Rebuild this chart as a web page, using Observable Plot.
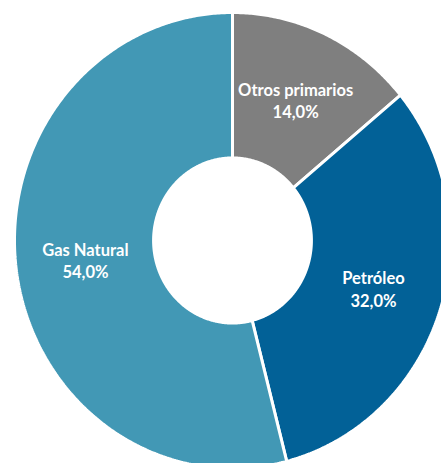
<!DOCTYPE html>
<html>
<head>
<meta charset="utf-8">
<script src="https://cdn.jsdelivr.net/npm/d3@7"></script>
<script src="https://cdn.jsdelivr.net/npm/@observablehq/plot@0.6"></script>
<style>
  html, body { margin: 0; padding: 0; background: #fff; overflow: hidden; }
  #chart svg { display: block; }
</style>
</head>
<body>
<div id="chart"></div>
<script>
// Data
const categories = ["Otros primarios", "Petróleo", "Gas Natural"];
const shares = [14.0, 32.0, 54.0];
const colors = ["#7f7f7f", "#026197", "#4298b5"];

// Layout (not data)
const innerR = 0.362, outerR = 1.0, labelR = 0.68;

const pie = d3.pie().sort(null).value(d => d.value)
  .startAngle(0).endAngle(2 * Math.PI);
const arcs = pie(categories.map((c, i) => ({name: c, value: shares[i]})));

const pts = [];
for (const a of arcs) {
  const n = Math.max(4, Math.ceil((a.endAngle - a.startAngle) / (Math.PI / 360)));
  const ring = [];
  for (let k = 0; k <= n; k++) {
    const t = a.startAngle + (a.endAngle - a.startAngle) * k / n;
    ring.push({name: a.data.name, x: outerR * Math.sin(t), y: outerR * Math.cos(t)});
  }
  for (let k = n; k >= 0; k--) {
    const t = a.startAngle + (a.endAngle - a.startAngle) * k / n;
    ring.push({name: a.data.name, x: innerR * Math.sin(t), y: innerR * Math.cos(t)});
  }
  ring.push({...ring[0]});
  pts.push(...ring);
}

const labels = arcs.map(a => {
  const m = (a.startAngle + a.endAngle) / 2;
  return {
    name: a.data.name,
    x: labelR * Math.sin(m),
    y: labelR * Math.cos(m),
    text: a.data.name + "\n" + a.data.value.toFixed(1).replace(".", ",") + "%"
  };
});

const chart = Plot.plot({
  width: 441,
  height: 463,
  margin: 0,
  style: {background: "#fff", fontFamily: "Lato, 'Open Sans', sans-serif"},
  x: {domain: [-1.0642, 0.9587], axis: null},
  y: {domain: [-0.978, 1.0526], axis: null},
  color: {domain: categories, range: colors},
  marks: [
    Plot.line(pts, {x: "x", y: "y", z: "name", fill: "name", stroke: "#fff", strokeWidth: 3, strokeLinejoin: "miter"}),
    Plot.text(labels, {x: "x", y: "y", text: "text", fill: "#fff", fontSize: 16.5, fontWeight: "bold", lineHeight: 1.35, lineAnchor: "middle"})
  ]
});
document.getElementById("chart").append(chart);
</script>
</body>
</html>
